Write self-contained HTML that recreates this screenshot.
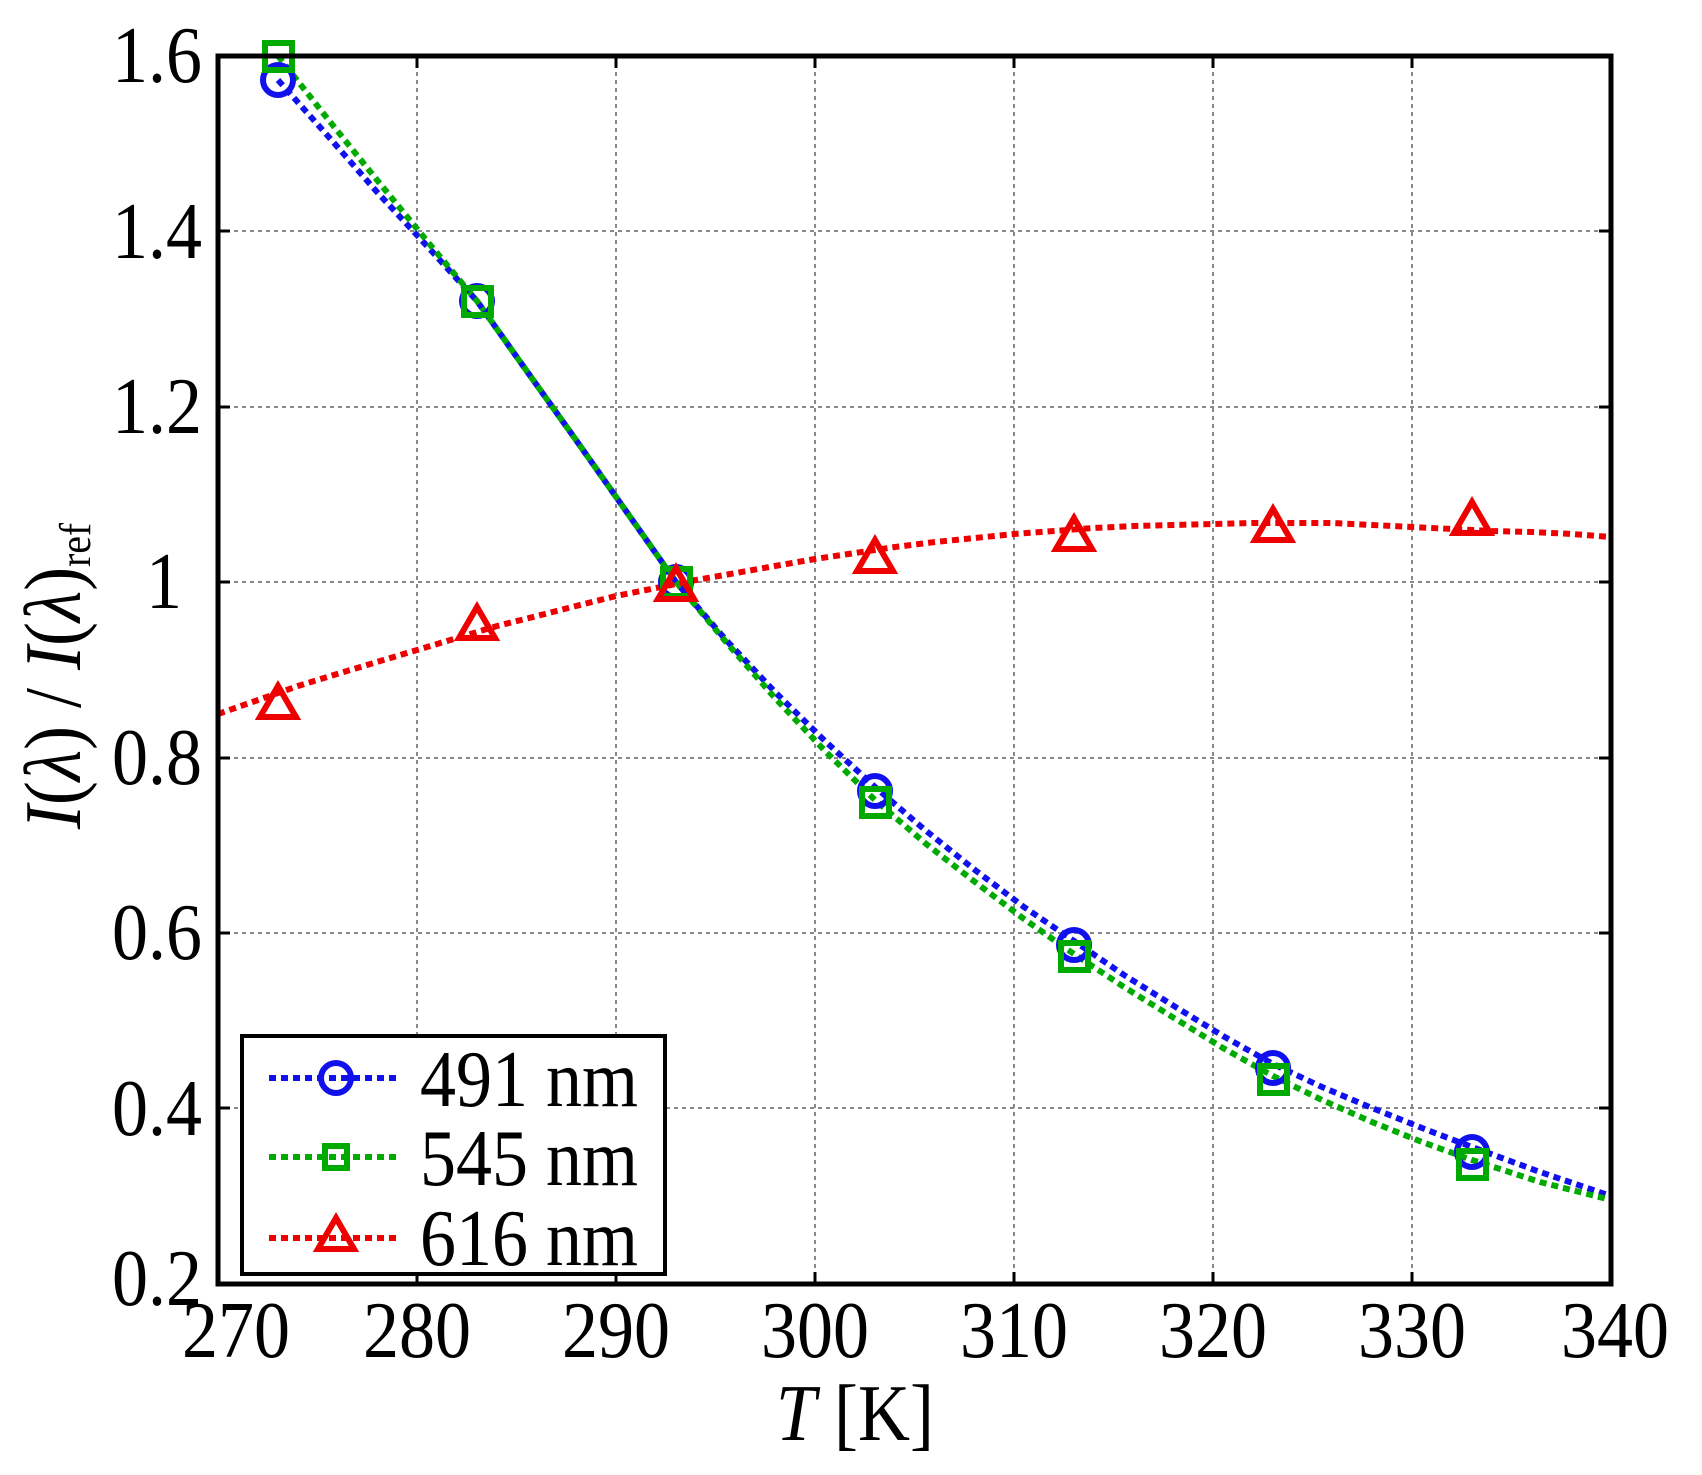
<!DOCTYPE html>
<html><head><meta charset="utf-8"><style>body{margin:0;background:#fff}svg{display:block}</style></head>
<body>
<svg width="1702" height="1475" viewBox="0 0 1702 1475" xmlns="http://www.w3.org/2000/svg" font-family="Liberation Serif, serif">
<defs><clipPath id="c"><rect x="218" y="56" width="1393" height="1228"/></clipPath></defs>
<g stroke="#888" stroke-width="2" stroke-dasharray="4,4">
<line x1="417" y1="56" x2="417" y2="1284"/><line x1="616" y1="56" x2="616" y2="1284"/><line x1="815" y1="56" x2="815" y2="1284"/><line x1="1014" y1="56" x2="1014" y2="1284"/><line x1="1213" y1="56" x2="1213" y2="1284"/><line x1="1412" y1="56" x2="1412" y2="1284"/>
<line x1="218" y1="231" x2="1611" y2="231"/><line x1="218" y1="407" x2="1611" y2="407"/><line x1="218" y1="582" x2="1611" y2="582"/><line x1="218" y1="758" x2="1611" y2="758"/><line x1="218" y1="933" x2="1611" y2="933"/><line x1="218" y1="1108" x2="1611" y2="1108"/>
</g>
<g clip-path="url(#c)" fill="none" stroke-width="6" stroke-dasharray="7,5">
<polyline stroke="#11e" points="278,80 327,135 377,192 427,246 477,301 526,370 576,440 626,511 676,582 726,640 775,692 825,741 875,787 925,830 975,870 1024,907 1074,941 1124,975 1174,1006 1223,1036 1273,1064 1322,1087 1372,1108 1422,1128 1472,1147 1540,1172 1611,1196"/>
<polyline stroke="#0a0" points="278,56 327,118 377,180 427,241 477,301 526,370 576,440 626,511 676,582 726,642 775,698 825,751 875,800 925,843 975,882 1024,919 1074,954 1124,987 1174,1018 1223,1048 1273,1076 1322,1100 1372,1122 1422,1142 1472,1160 1540,1182 1611,1200"/>
<polyline stroke="#e00" points="218,714 258,700 298,686 337,674 377,662 417,650 457,638 497,626 537,616 576,606 616,596 656,588 696,580 736,573 775,566 815,559 855,553 895,547 935,542 975,538 1014,534 1054,531 1094,528 1134,526 1174,525 1213,524 1253,523 1293,523 1333,523 1372,525 1412,527 1452,529 1492,531 1532,532 1572,534 1611,537"/>
</g>
<g fill="none" stroke-width="6">
<g stroke="#11e">
<circle cx="278" cy="80" r="15"/><circle cx="477" cy="301" r="15"/><circle cx="676" cy="582" r="15"/><circle cx="875" cy="791" r="15"/><circle cx="1074" cy="945" r="15"/><circle cx="1273" cy="1068" r="15"/><circle cx="1472" cy="1152" r="15"/>
</g>
<g stroke="#0a0">
<rect x="265" y="43" width="27" height="27"/><rect x="464" y="288" width="27" height="27"/><rect x="663" y="569" width="27" height="27"/><rect x="862" y="789" width="27" height="27"/><rect x="1061" y="943" width="27" height="27"/><rect x="1260" y="1066" width="27" height="27"/><rect x="1459" y="1151" width="27" height="27"/>
</g>
<g stroke="#e00">
<path d="M278,686 l-18,31 h36z"/><path d="M477,607 l-18,31 h36z"/><path d="M676,568 l-18,31 h36z"/><path d="M875,540 l-18,31 h36z"/><path d="M1074,518 l-18,31 h36z"/><path d="M1273,509 l-18,31 h36z"/><path d="M1472,502 l-18,31 h36z"/>
</g>
</g>
<rect x="218" y="56" width="1393" height="1228" fill="none" stroke="#000" stroke-width="5"/>
<g stroke="#000" stroke-width="3">
<path d="M417,1284v-12M616,1284v-12M815,1284v-12M1014,1284v-12M1213,1284v-12M1412,1284v-12M417,56v12M616,56v12M815,56v12M1014,56v12M1213,56v12M1412,56v12"/>
<path d="M218,231h12M218,407h12M218,582h12M218,758h12M218,933h12M218,1108h12M1611,231h-12M1611,407h-12M1611,582h-12M1611,758h-12M1611,933h-12M1611,1108h-12"/>
</g>
<g fill="#000" font-size="80" text-anchor="end">
<text transform="translate(202,82) scale(0.9,1)">1.6</text>
<text transform="translate(202,258) scale(0.9,1)">1.4</text>
<text transform="translate(202,433) scale(0.9,1)">1.2</text>
<text transform="translate(182,608) scale(0.9,1)">1</text>
<text transform="translate(202,784) scale(0.9,1)">0.8</text>
<text transform="translate(202,959) scale(0.9,1)">0.6</text>
<text transform="translate(202,1135) scale(0.9,1)">0.4</text>
<text transform="translate(202,1305) scale(0.9,1)">0.2</text>
</g>
<g fill="#000" font-size="80" text-anchor="middle">
<text transform="translate(236,1357) scale(0.9,1)">270</text>
<text transform="translate(417,1357) scale(0.9,1)">280</text>
<text transform="translate(616,1357) scale(0.9,1)">290</text>
<text transform="translate(815,1357) scale(0.9,1)">300</text>
<text transform="translate(1014,1357) scale(0.9,1)">310</text>
<text transform="translate(1213,1357) scale(0.9,1)">320</text>
<text transform="translate(1412,1357) scale(0.9,1)">330</text>
<text transform="translate(1615,1357) scale(0.9,1)">340</text>
<text transform="translate(855,1440) scale(0.9,1)"><tspan font-style="italic">T</tspan> [K]</text>
<text transform="translate(80,676) rotate(-90) scale(0.9,1)"><tspan font-style="italic">I</tspan>(<tspan font-style="italic">λ</tspan>) / <tspan font-style="italic">I</tspan>(<tspan font-style="italic">λ</tspan>)<tspan font-size="44" dy="10">ref</tspan></text>
</g>
<rect x="242" y="1036" width="423" height="238" fill="#fff" stroke="#000" stroke-width="4"/>
<g fill="none" stroke-width="6" stroke-dasharray="7,5">
<line x1="269" y1="1078" x2="398" y2="1078" stroke="#11e"/>
<line x1="269" y1="1157" x2="398" y2="1157" stroke="#0a0"/>
<line x1="269" y1="1238" x2="398" y2="1238" stroke="#e00"/>
</g>
<g fill="none" stroke-width="6">
<circle cx="336" cy="1078" r="15" stroke="#11e"/>
<rect x="325" y="1146" width="22" height="22" stroke="#0a0"/>
<path d="M336,1218 l-18,31 h36z" stroke="#e00"/>
</g>
<g fill="#000" font-size="80">
<text transform="translate(420,1106) scale(0.9,1)">491 nm</text>
<text transform="translate(420,1185) scale(0.9,1)">545 nm</text>
<text transform="translate(420,1265) scale(0.9,1)">616 nm</text>
</g>
</svg>
</body></html>
